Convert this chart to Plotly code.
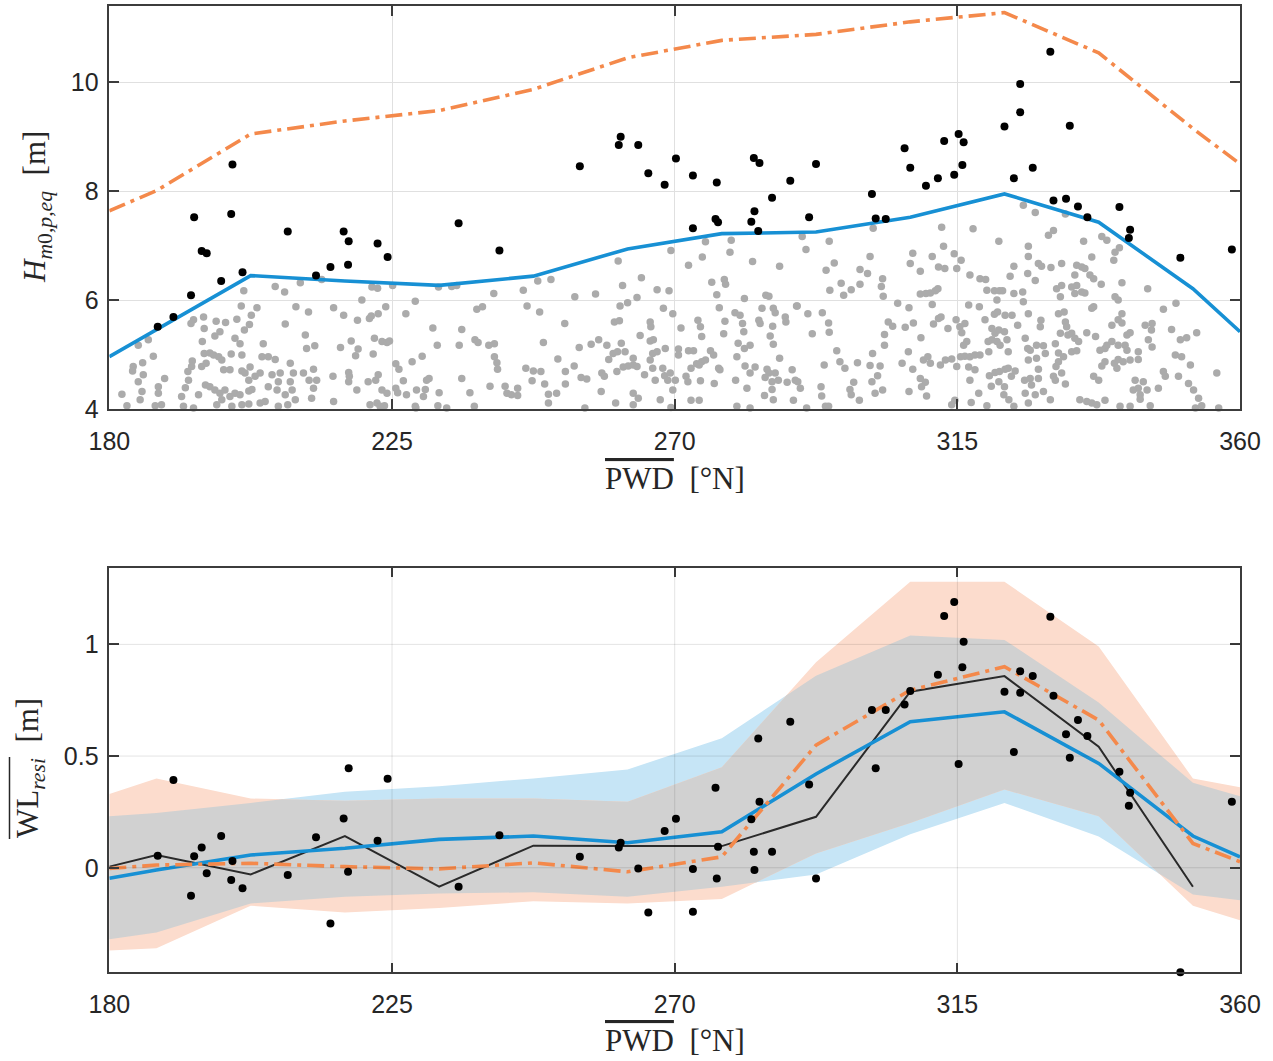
import numpy as np
import plotly.graph_objects as go

# ---------------------------------------------------------------- data
# direction-bin centres (deg N), closed with the 180 and 360 end points
pwd_nodes = [180, 187.5, 202.5, 217.5, 232.5, 247.5, 262.5, 277.5,
             292.5, 307.5, 322.5, 337.5, 352.5, 360]

# upper panel: equivalent peak wave height per direction bin
hm0_mean = [4.96, 5.46, 6.45, 6.35, 6.27, 6.44, 6.94, 7.22, 7.25, 7.52,
            7.95, 7.43, 6.21, 5.42]
hm0_extreme = [7.64, 8.01, 9.05, 9.29, 9.48, 9.87, 10.45, 10.77, 10.88,
               11.11, 11.28, 10.54, 9.15, 8.50]

# lower panel: residual water level, two fits with their spread
wl_fit_a = [-0.047, -0.010, 0.057, 0.087, 0.127, 0.142, 0.112, 0.161, 0.420,
            0.654, 0.698, 0.467, 0.142, 0.049]
wl_fit_a_hi = [0.23, 0.245, 0.29, 0.34, 0.365, 0.40, 0.44, 0.58, 0.86,
               1.04, 1.02, 0.74, 0.38, 0.32]
wl_fit_a_lo = [-0.32, -0.29, -0.16, -0.13, -0.115, -0.11, -0.13, -0.085,
               -0.03, 0.15, 0.29, 0.14, -0.12, -0.145]
wl_fit_b = [-0.003, 0.012, 0.020, 0.005, -0.005, 0.022, -0.018, 0.049, 0.549,
            0.795, 0.900, 0.661, 0.109, 0.027]
wl_fit_b_hi = [0.33, 0.40, 0.31, 0.30, 0.31, 0.31, 0.295, 0.45, 0.92,
               1.28, 1.28, 0.99, 0.40, 0.36]
wl_fit_b_lo = [-0.37, -0.36, -0.17, -0.20, -0.18, -0.15, -0.16, -0.14,
               0.064, 0.20, 0.35, 0.23, -0.17, -0.235]

# bin means of the storm events (no value in the last half bin)
wl_event_mean = [0.005, 0.057, -0.030, 0.142, -0.085, 0.099, 0.097, 0.097,
                 0.228, 0.788, 0.858, 0.542, -0.085]

# storm events: direction, wave height and residual water level
ev_pwd = [187.7, 190.2, 193.0, 193.5, 194.7, 195.5, 197.8, 199.4, 199.6, 201.2,
          208.4, 212.9, 215.2, 217.3, 218.1, 218.0, 222.7, 224.3,
          235.6, 242.1, 254.9, 261.4, 261.1, 264.2, 265.8, 268.4, 270.2, 272.9,
          272.9, 276.7, 276.5, 276.9, 282.6, 283.5, 282.7, 282.2, 283.3, 285.5,
          288.4, 292.5, 291.4,
          301.4, 302.0, 303.6, 306.6, 307.5, 310.0, 311.9, 312.9, 314.5, 315.2,
          316.0, 315.8, 322.5, 324.0, 325.0, 325.0, 327.0, 329.8, 332.9, 330.3,
          332.3, 334.2, 335.7, 340.8, 342.5, 342.3, 350.5, 358.7]
ev_hm0 = [5.51, 5.69, 6.09, 7.52, 6.90, 6.86, 6.35, 7.58, 8.49, 6.51,
          7.26, 6.45, 6.61, 7.26, 7.08, 6.65, 7.04, 6.79,
          7.41, 6.91, 8.46, 9.00, 8.85, 8.85, 8.33, 8.12, 8.60, 8.29,
          7.32, 8.16, 7.49, 7.43, 8.61, 8.52, 7.63, 7.44, 7.27, 7.88,
          8.19, 8.50, 7.52,
          7.95, 7.50, 7.49, 8.79, 8.43, 8.10, 8.24, 8.92, 8.30, 9.05,
          8.90, 8.48, 9.19, 8.24, 9.45, 9.97, 8.43, 10.56, 9.20, 7.83,
          7.86, 7.72, 7.52, 7.71, 7.29, 7.14, 6.78, 6.93]
ev_wl = [0.054, 0.393, -0.125, 0.052, 0.091, -0.025, 0.142, -0.055, 0.030, -0.092,
         -0.033, 0.136, -0.249, 0.221, 0.445, -0.018, 0.121, 0.398,
         -0.085, 0.146, 0.049, 0.112, 0.091, -0.003, -0.200, 0.164, 0.219, -0.006,
         -0.197, -0.048, 0.358, 0.094, 0.072, 0.296, -0.010, 0.217, 0.579, 0.072,
         0.654, -0.048, 0.373,
         0.706, 0.445, 0.706, 0.731, 0.791, 1.345, 0.864, 1.127, 1.190, 0.464,
         1.012, 0.897, 0.788, 0.518, 0.880, 0.783, 0.858, 1.124, 0.492, 0.770,
         0.598, 0.661, 0.590, 0.430, 0.336, 0.278, -0.468, 0.296]

# all other records (direction, wave height), by direction sector
records_180_216 = [
    (206.4, 6.25), (207.9, 6.15), (210.4, 6.32), (201.4, 6.17), (213.8, 6.38), (201.0, 5.89),
    (203.5, 5.86), (209.7, 5.88), (211.7, 5.78), (215.7, 5.86), (195.0, 5.69), (193.4, 5.64),
    (193.0, 5.57), (197.0, 5.61), (198.5, 5.59), (200.3, 5.65), (202.6, 5.72), (202.3, 5.55),
    (201.5, 5.45), (208.0, 5.56), (211.2, 5.36), (211.4, 5.11), (212.7, 5.16), (186.2, 5.27),
    (184.6, 5.17), (187.0, 4.97), (183.8, 4.78), (185.3, 4.85), (183.7, 4.70), (184.6, 4.50),
    (185.4, 4.63), (188.8, 4.56), (187.8, 4.41), (187.8, 4.29), (185.2, 4.32), (184.9, 4.17),
    (182.0, 4.27), (182.8, 4.06), (195.1, 5.48), (196.8, 5.34), (197.6, 5.42), (194.8, 5.24),
    (200.0, 5.30), (200.8, 5.20), (201.1, 4.99), (199.4, 5.01), (195.1, 5.02), (196.0, 5.03),
    (196.6, 4.99), (197.4, 4.96), (197.9, 4.90), (193.2, 4.88), (193.1, 4.78), (192.5, 4.69),
    (194.7, 4.78), (195.4, 4.84), (198.2, 4.72), (199.2, 4.72), (201.1, 4.70), (202.4, 4.77),
    (203.2, 4.60), (204.3, 4.96), (205.3, 4.96), (206.4, 4.91), (204.5, 5.20), (202.2, 4.53),
    (201.6, 4.66), (204.0, 4.66), (205.9, 4.63), (207.2, 4.66), (208.8, 4.84), (209.3, 4.66),
    (210.9, 4.66), (212.5, 4.73), (211.8, 4.53), (213.0, 4.53), (212.5, 4.38), (208.8, 4.50),
    (206.9, 4.50), (205.3, 4.41), (206.7, 4.35), (208.0, 4.26), (209.1, 4.35), (209.6, 4.17),
    (206.9, 4.05), (208.4, 4.08), (212.2, 4.20), (215.7, 4.14), (215.6, 4.60), (192.1, 4.39),
    (192.6, 4.53), (191.5, 4.23), (191.8, 4.05), (193.4, 4.02), (194.2, 4.26), (195.3, 4.44),
    (196.0, 4.41), (196.8, 4.35), (197.6, 4.29), (198.4, 4.35), (199.2, 4.23), (200.0, 4.29),
    (200.8, 4.26), (202.2, 4.33), (202.7, 4.36), (197.9, 4.17), (197.1, 4.08), (199.5, 4.05),
    (201.1, 4.08), (202.2, 4.09), (204.0, 4.11), (204.8, 4.14), (188.3, 4.08), (187.3, 4.06),
]
records_216_253 = [
    (221.8, 6.24), (222.7, 6.22), (225.1, 6.27), (232.4, 6.24), (234.5, 6.25), (235.3, 6.27),
    (248.2, 6.35), (250.3, 6.38), (220.2, 6.00), (228.7, 5.98), (241.2, 6.12), (245.9, 6.18),
    (217.3, 5.72), (219.5, 5.63), (221.4, 5.66), (221.7, 5.71), (222.8, 5.75), (224.0, 5.88),
    (227.2, 5.75), (238.5, 5.83), (239.4, 5.88), (246.5, 5.89), (248.5, 5.78), (252.5, 5.57),
    (231.5, 5.49), (236.1, 5.46), (216.8, 5.13), (218.5, 5.25), (219.6, 5.10), (219.2, 4.98),
    (222.2, 5.30), (223.4, 5.24), (224.2, 5.22), (224.6, 5.25), (222.0, 5.01), (232.2, 5.17),
    (235.7, 5.17), (238.2, 5.27), (238.7, 5.22), (240.4, 5.17), (241.3, 5.20), (249.1, 5.22),
    (225.6, 4.83), (226.1, 4.73), (228.2, 4.87), (229.8, 4.97), (241.3, 4.96), (241.7, 4.85),
    (241.8, 4.73), (246.3, 4.75), (247.5, 4.70), (248.7, 4.69), (251.4, 4.92), (252.6, 4.69),
    (218.1, 4.67), (218.2, 4.60), (218.1, 4.50), (219.4, 4.35), (221.2, 4.50), (222.4, 4.53),
    (222.8, 4.63), (223.4, 4.35), (224.2, 4.29), (225.6, 4.38), (225.9, 4.30), (226.8, 4.52),
    (227.3, 4.26), (228.9, 4.35), (230.3, 4.36), (230.5, 4.53), (230.9, 4.56), (230.0, 4.23),
    (232.5, 4.30), (236.1, 4.56), (237.4, 4.30), (240.6, 4.42), (243.0, 4.42), (243.3, 4.29),
    (244.0, 4.26), (245.0, 4.38), (245.0, 4.25), (247.3, 4.52), (249.3, 4.46), (249.9, 4.27),
    (251.2, 4.29), (252.6, 4.46), (221.5, 4.08), (222.6, 4.11), (223.8, 4.06), (223.1, 4.05),
    (228.7, 4.05), (228.8, 4.02), (232.3, 4.06), (233.7, 4.02), (238.1, 4.05), (249.9, 4.11),
]
records_253_289 = [
    (269.4, 6.91), (274.9, 7.07), (279.0, 7.10), (278.8, 6.88), (261.0, 6.72), (274.4, 6.79),
    (272.2, 6.64), (282.4, 6.71), (286.7, 6.62), (264.7, 6.41), (261.7, 6.27), (267.2, 6.19),
    (269.1, 6.17), (275.9, 6.33), (277.9, 6.38), (278.1, 6.29), (254.1, 6.06), (257.4, 6.11),
    (264.0, 6.05), (276.7, 6.10), (281.1, 6.03), (284.5, 6.09), (285.0, 6.07), (261.3, 5.89),
    (262.5, 5.95), (268.2, 5.85), (269.7, 5.75), (277.1, 5.86), (279.6, 5.77), (280.4, 5.72),
    (283.9, 5.85), (285.7, 5.85), (286.0, 5.77), (287.6, 5.69), (287.7, 5.60), (289.5, 5.89),
    (260.4, 5.60), (261.2, 5.62), (266.1, 5.60), (266.2, 5.51), (271.0, 5.49), (273.7, 5.63),
    (274.1, 5.51), (278.0, 5.61), (280.8, 5.57), (281.0, 5.42), (283.4, 5.63), (283.6, 5.57),
    (285.6, 5.52), (264.5, 5.35), (266.1, 5.25), (266.6, 5.27), (274.3, 5.33), (277.8, 5.38),
    (285.2, 5.34), (254.8, 5.13), (256.7, 5.19), (257.9, 5.27), (259.2, 5.17), (261.5, 5.21),
    (268.5, 5.11), (270.6, 5.10), (272.2, 5.07), (273.0, 5.07), (275.7, 5.07), (280.1, 5.21),
    (281.1, 5.11), (282.0, 5.17), (285.7, 5.19), (259.5, 4.91), (260.2, 5.02), (260.9, 5.05),
    (262.1, 5.05), (263.4, 4.93), (266.1, 4.90), (266.5, 5.02), (267.2, 5.05), (270.6, 4.99),
    (273.5, 4.83), (274.3, 4.87), (274.9, 4.90), (276.2, 4.99), (279.9, 4.96), (281.2, 4.79),
    (282.8, 4.77), (284.7, 4.73), (285.0, 4.66), (286.0, 4.66), (286.7, 4.93), (288.7, 4.72),
    (254.0, 4.79), (255.1, 4.58), (256.0, 4.55), (258.4, 4.66), (258.8, 4.60), (260.8, 4.69),
    (261.8, 4.77), (262.6, 4.79), (263.4, 4.81), (264.0, 4.78), (265.2, 4.63), (266.5, 4.75),
    (268.1, 4.75), (268.4, 4.61), (269.3, 4.66), (270.1, 4.53), (268.9, 4.53), (266.9, 4.53),
    (271.8, 4.60), (272.6, 4.75), (273.9, 4.81), (277.0, 4.75), (277.2, 4.72), (272.1, 4.50),
    (274.1, 4.52), (276.3, 4.47), (279.7, 4.53), (281.5, 4.38), (282.0, 4.66), (284.4, 4.58),
    (285.5, 4.50), (286.5, 4.53), (287.9, 4.49), (289.2, 4.53), (258.3, 4.32), (263.4, 4.29),
    (264.2, 4.20), (267.7, 4.17), (269.7, 4.35), (272.6, 4.16), (273.9, 4.16), (284.3, 4.25),
    (285.5, 4.36), (285.7, 4.17), (288.9, 4.16), (255.7, 4.02), (260.6, 4.11), (263.4, 4.08),
    (269.4, 4.03), (279.9, 4.05), (282.0, 4.02),
]
records_289_326 = [
    (290.3, 7.17), (290.9, 6.93), (294.6, 7.08), (301.6, 7.32), (312.5, 7.34), (317.5, 7.31),
    (321.6, 7.08), (325.5, 7.74), (326.3, 6.99), (301.1, 6.80), (307.9, 6.86), (307.5, 6.67),
    (311.0, 6.80), (312.8, 6.99), (314.5, 6.85), (315.6, 6.73), (314.9, 6.58), (312.0, 6.61),
    (313.0, 6.58), (309.1, 6.53), (295.4, 6.68), (294.1, 6.55), (299.5, 6.56), (300.7, 6.49),
    (303.1, 6.39), (302.9, 6.25), (303.2, 6.07), (296.5, 6.31), (298.1, 6.19), (296.9, 6.09),
    (294.7, 6.18), (299.5, 6.29), (324.0, 6.62), (323.4, 6.44), (326.3, 6.80), (326.2, 6.49),
    (317.0, 6.46), (318.6, 6.39), (319.5, 6.38), (319.7, 6.18), (320.9, 6.17), (321.7, 6.17),
    (322.2, 6.17), (321.3, 6.00), (324.0, 6.12), (325.4, 6.15), (309.1, 6.11), (310.0, 6.12),
    (310.7, 6.13), (311.5, 6.17), (311.9, 6.21), (311.0, 5.92), (289.4, 5.89), (291.2, 5.75),
    (293.5, 5.77), (294.5, 5.58), (291.9, 5.38), (294.6, 5.41), (305.5, 5.94), (307.3, 5.86),
    (304.0, 5.60), (304.7, 5.52), (308.0, 5.58), (306.7, 5.50), (309.2, 5.31), (303.4, 5.37),
    (303.4, 5.17), (311.2, 5.56), (312.0, 5.66), (312.4, 5.69), (313.5, 5.48), (314.8, 5.64),
    (315.4, 5.51), (316.2, 5.57), (316.8, 5.91), (318.5, 5.88), (319.4, 5.64), (320.9, 5.74),
    (321.4, 5.78), (322.6, 5.72), (323.7, 5.72), (325.5, 5.97), (326.3, 5.75), (324.6, 5.54),
    (315.7, 5.40), (316.5, 5.24), (316.0, 5.17), (320.5, 5.48), (321.0, 5.39), (321.6, 5.45),
    (322.5, 5.42), (320.5, 5.27), (321.3, 5.24), (321.8, 5.17), (322.9, 5.27), (323.1, 5.05),
    (319.9, 5.24), (318.6, 4.99), (320.0, 5.05), (325.8, 5.30), (326.2, 5.11), (295.8, 5.07),
    (296.3, 4.87), (297.1, 4.75), (293.8, 4.81), (299.1, 4.85), (301.5, 5.02), (301.1, 4.80),
    (302.7, 4.79), (302.3, 4.61), (306.2, 4.84), (307.2, 5.05), (307.9, 4.73), (309.6, 4.90),
    (310.3, 4.96), (310.7, 4.84), (312.3, 4.81), (313.1, 4.90), (314.1, 4.92), (314.9, 4.78),
    (315.5, 4.96), (316.2, 4.97), (317.0, 4.96), (317.8, 4.99), (316.8, 4.77), (317.8, 4.72),
    (317.0, 4.53), (320.1, 4.61), (321.0, 4.67), (321.7, 4.69), (322.6, 4.73), (323.1, 4.75),
    (324.2, 4.70), (323.6, 4.60), (325.7, 4.53), (326.3, 4.90), (289.6, 4.50), (290.0, 4.38),
    (293.3, 4.41), (293.4, 4.24), (294.5, 4.05), (297.9, 4.36), (298.1, 4.26), (299.4, 4.16),
    (298.5, 4.49), (301.9, 4.29), (303.1, 4.35), (301.4, 4.50), (307.3, 4.32), (309.1, 4.56),
    (309.9, 4.49), (309.3, 4.41), (310.1, 4.24), (318.4, 4.29), (320.4, 4.42), (321.6, 4.50),
    (322.5, 4.41), (322.4, 4.26), (323.2, 4.17), (324.0, 4.05), (319.7, 4.06), (317.2, 4.12),
    (314.1, 4.08), (314.6, 4.16), (291.0, 4.02), (294.0, 4.05), (325.8, 4.29), (326.3, 4.11),
]
records_326_360 = [
    (327.4, 7.61), (332.2, 7.58), (330.3, 7.28), (329.5, 7.19), (335.1, 7.08), (338.0, 7.17),
    (338.8, 7.10), (339.9, 6.73), (340.1, 6.88), (340.8, 6.96), (336.4, 6.79), (327.9, 6.67),
    (328.4, 6.62), (329.9, 6.60), (331.6, 6.67), (334.0, 6.64), (334.8, 6.61), (335.3, 6.58),
    (333.7, 6.46), (327.4, 6.36), (336.1, 6.46), (336.7, 6.39), (337.9, 6.29), (341.2, 6.32),
    (345.3, 6.21), (330.8, 6.21), (331.4, 6.06), (331.6, 6.27), (333.2, 6.24), (334.0, 6.27),
    (334.8, 6.15), (333.7, 6.12), (335.3, 6.13), (340.1, 6.06), (340.6, 6.00), (336.7, 5.88),
    (336.4, 5.85), (347.8, 5.83), (349.8, 5.94), (328.3, 5.63), (328.2, 5.51), (331.1, 5.75),
    (332.0, 5.78), (332.2, 5.60), (332.4, 5.51), (331.4, 5.39), (332.6, 5.36), (333.2, 5.39),
    (333.7, 5.30), (334.3, 5.24), (335.6, 5.40), (339.6, 5.54), (340.6, 5.64), (341.2, 5.58),
    (341.2, 5.75), (342.5, 5.40), (342.0, 5.36), (344.9, 5.54), (346.0, 5.57), (345.9, 5.45),
    (349.1, 5.46), (350.5, 5.27), (351.5, 5.31), (353.1, 5.40), (327.6, 5.17), (328.7, 5.16),
    (329.0, 5.02), (326.6, 5.08), (327.6, 4.93), (330.6, 5.20), (331.1, 5.03), (331.9, 4.96),
    (333.2, 5.05), (334.0, 5.07), (337.0, 5.33), (337.7, 5.08), (338.5, 5.11), (338.8, 5.17),
    (339.6, 5.24), (340.6, 5.17), (341.7, 5.17), (342.0, 5.08), (343.8, 5.05), (345.4, 5.27),
    (346.0, 5.14), (349.7, 4.99), (350.7, 4.96), (352.1, 4.81), (338.5, 4.87), (340.0, 4.84),
    (340.6, 4.91), (341.4, 4.87), (342.5, 4.90), (343.8, 4.91), (340.4, 4.75), (338.0, 4.79),
    (336.7, 4.60), (337.5, 4.53), (331.1, 4.87), (330.7, 4.78), (331.6, 4.66), (330.3, 4.60),
    (330.6, 4.53), (332.2, 4.46), (327.9, 4.73), (327.9, 4.56), (326.6, 4.56), (326.8, 4.44),
    (328.7, 4.32), (327.4, 4.26), (329.8, 4.17), (343.3, 4.53), (344.6, 4.50), (345.2, 4.35),
    (343.8, 4.38), (343.0, 4.35), (344.1, 4.26), (347.0, 4.38), (347.8, 4.69), (348.1, 4.60),
    (350.2, 4.60), (351.8, 4.47), (352.6, 4.35), (353.4, 4.20), (356.3, 4.66), (334.5, 4.17),
    (335.6, 4.14), (336.4, 4.11), (337.2, 4.08), (338.5, 4.16), (340.9, 4.05), (342.5, 4.05),
    (344.1, 4.18), (345.7, 4.06), (352.9, 4.02), (353.9, 4.06), (356.6, 4.02),
]

x_ticks = [180, 225, 270, 315, 360]
hm0_ticks = [4, 6, 8, 10]
wl_ticks = [0, 0.5, 1]
x_range = [180, 360]
hm0_range = [4, 11.4]
wl_range = [-0.468, 1.343]

# ---------------------------------------------------------------- style
C_BLUE = "#1790D4"
C_ORANGE = "#F4894B"
C_BLUE_BAND = "#C6E5F6"
C_ORANGE_BAND = "#FCDCCD"
C_OVERLAP = "#D1D1D1"
C_GREY_DOT = "#ABABAB"
C_AX = "#3C3C3C"
C_TXT = "#262626"
DASHDOT = "17px,6px,4px,6px"
TICK_FONT = dict(family="Liberation Sans, Arial, sans-serif", size=25, color=C_TXT)
LBL_FONT = dict(family="Liberation Serif, Times New Roman, serif", size=31, color=C_TXT)

fig = go.Figure()

# ---------------------------------------------------------------- upper panel
rec = records_180_216 + records_216_253 + records_253_289 + records_289_326 + records_326_360
fig.add_trace(go.Scatter(
    x=[p[0] for p in rec], y=[p[1] for p in rec], mode="markers",
    marker=dict(size=7.5, color=C_GREY_DOT), xaxis="x", yaxis="y",
    cliponaxis=False, showlegend=False, hoverinfo="skip"))
fig.add_trace(go.Scatter(
    x=pwd_nodes, y=hm0_extreme, mode="lines",
    line=dict(color=C_ORANGE, width=3.6, dash=DASHDOT),
    xaxis="x", yaxis="y", showlegend=False))
fig.add_trace(go.Scatter(
    x=pwd_nodes, y=hm0_mean, mode="lines",
    line=dict(color=C_BLUE, width=3.6),
    xaxis="x", yaxis="y", showlegend=False))
fig.add_trace(go.Scatter(
    x=ev_pwd, y=ev_hm0, mode="markers",
    marker=dict(size=8, color="black"), xaxis="x", yaxis="y",
    cliponaxis=False, showlegend=False))

# ---------------------------------------------------------------- lower panel
xn = np.asarray(pwd_nodes, float)
a_hi, a_lo = np.asarray(wl_fit_a_hi), np.asarray(wl_fit_a_lo)
b_hi, b_lo = np.asarray(wl_fit_b_hi), np.asarray(wl_fit_b_lo)

# refine the node grid with the crossings of the two envelopes so that the
# overlap of both bands is exact between nodes
xs = list(xn)
for d in (a_hi - b_hi, a_lo - b_lo):
    for i in range(len(xn) - 1):
        if d[i] * d[i + 1] < 0:
            xs.append(xn[i] + (xn[i + 1] - xn[i]) * d[i] / (d[i] - d[i + 1]))
xs = np.array(sorted(xs))
ia_hi, ia_lo = np.interp(xs, xn, a_hi), np.interp(xs, xn, a_lo)
ib_hi, ib_lo = np.interp(xs, xn, b_hi), np.interp(xs, xn, b_lo)
ov_hi = np.minimum(ia_hi, ib_hi)
ov_lo = np.maximum(ia_lo, ib_lo)


def band(x, hi, lo, color):
    x = list(x)
    return go.Scatter(x=x + x[::-1], y=list(hi) + list(lo)[::-1],
                      fill="toself", fillcolor=color, mode="lines",
                      line=dict(width=0, color=color), xaxis="x2", yaxis="y2",
                      showlegend=False, hoverinfo="skip")


fig.add_trace(band(xn, a_hi, a_lo, C_BLUE_BAND))
fig.add_trace(band(xn, b_hi, b_lo, C_ORANGE_BAND))
fig.add_trace(band(xs, ov_hi, ov_lo, C_OVERLAP))

fig.add_trace(go.Scatter(
    x=pwd_nodes[:len(wl_event_mean)], y=wl_event_mean, mode="lines",
    line=dict(color="#2A2A2A", width=2), xaxis="x2", yaxis="y2", showlegend=False))
fig.add_trace(go.Scatter(
    x=pwd_nodes, y=wl_fit_a, mode="lines",
    line=dict(color=C_BLUE, width=3.6), xaxis="x2", yaxis="y2", showlegend=False))
fig.add_trace(go.Scatter(
    x=pwd_nodes, y=wl_fit_b, mode="lines",
    line=dict(color=C_ORANGE, width=3.6, dash=DASHDOT),
    xaxis="x2", yaxis="y2", showlegend=False))
fig.add_trace(go.Scatter(
    x=ev_pwd, y=ev_wl, mode="markers",
    marker=dict(size=8, color="black"), xaxis="x2", yaxis="y2",
    cliponaxis=False, showlegend=False))

# grid of the lower panel drawn over the shaded bands
shapes = []
for t in x_ticks[1:-1]:
    shapes.append(dict(type="line", xref="x2", yref="y2 domain", x0=t, x1=t, y0=0, y1=1,
                       line=dict(color="rgba(0,0,0,0.11)", width=1), layer="above"))
for t in wl_ticks:
    shapes.append(dict(type="line", xref="x2 domain", yref="y2", x0=0, x1=1, y0=t, y1=t,
                       line=dict(color="rgba(0,0,0,0.11)", width=1), layer="above"))

# one continuous bar over the whole "WL_resi" symbol of the lower y label
shapes.append(dict(type="line", xref="paper", yref="paper",
                   x0=9.5 / 1273, x1=9.5 / 1273, y0=1 - 839 / 1061, y1=1 - 757 / 1061,
                   line=dict(color=C_TXT, width=1.5)))

# ---------------------------------------------------------------- axes
common = dict(showline=True, linecolor=C_AX, linewidth=1.5, mirror="ticks",
              ticks="inside", ticklen=10, tickwidth=1.5, tickcolor=C_AX,
              tickfont=TICK_FONT, zeroline=False, automargin=False)
x_common = dict(common, ticklabelstandoff=9)
y_common = dict(common, ticklabelstandoff=4)
X_DOM = [0.0859, 0.9741]

fig.update_layout(
    width=1273, height=1061,
    margin=dict(l=0, r=0, t=0, b=0, pad=0),
    paper_bgcolor="white", plot_bgcolor="white",
    xaxis=dict(domain=X_DOM, range=x_range, tickvals=x_ticks, anchor="y",
               showgrid=True, gridcolor="#E0E0E0", gridwidth=1, **x_common),
    yaxis=dict(domain=[0.6145, 0.9943], range=hm0_range, tickvals=hm0_ticks,
               anchor="x", showgrid=True, gridcolor="#E0E0E0", gridwidth=1, **y_common),
    xaxis2=dict(domain=X_DOM, range=x_range, tickvals=x_ticks, anchor="y2",
                showgrid=False, **x_common),
    yaxis2=dict(domain=[0.0836, 0.4649], range=wl_range, tickvals=wl_ticks,
                ticktext=["0", "0.5", "1"], anchor="x2", showgrid=False, **y_common),
    shapes=shapes,
)

OVL = '<span style="text-decoration:overline">'
x_title = OVL + "PWD</span>&nbsp;&nbsp;[°N]"
annotations = [
    dict(text=x_title, x=0.530, y=1 - 478 / 1061),
    dict(text=x_title, x=0.530, y=1 - 1040 / 1061),
    dict(text="<i>H</i><sub><i>m</i>0<i>,p,eq</i></sub>&nbsp;&nbsp;[m]",
         x=37 / 1273, y=1 - 207 / 1061, textangle=-90),
    dict(text="WL<sub><i>resi</i></sub>&nbsp;&nbsp;[m]",
         x=30 / 1273, y=1 - 768 / 1061, textangle=-90),
]
for a in annotations:
    a.update(xref="paper", yref="paper", showarrow=False, font=LBL_FONT,
             xanchor="center", yanchor="middle")
fig.update_layout(annotations=annotations)

fig.write_html("out.html")
